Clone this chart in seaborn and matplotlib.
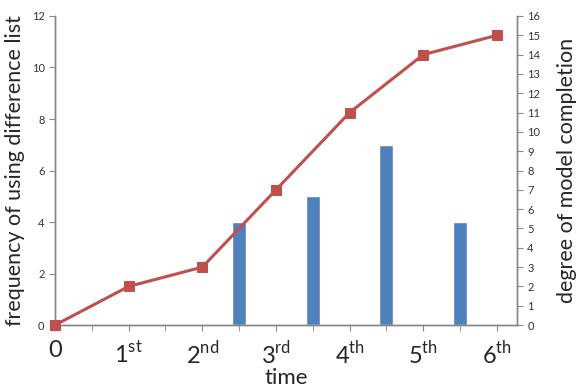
import seaborn as sns
import pandas as pd
import matplotlib.pyplot as plt
import numpy as np

# data
time_labels = ["0", r"1$^{\mathrm{st}}$", r"2$^{\mathrm{nd}}$", r"3$^{\mathrm{rd}}$",
               r"4$^{\mathrm{th}}$", r"5$^{\mathrm{th}}$", r"6$^{\mathrm{th}}$"]
time_pos = [0, 1, 2, 3, 4, 5, 6]
completion = [0, 2, 3, 7, 11, 14, 15]
bar_pos = [2.5, 3.5, 4.5, 5.5]
frequency = [4, 5, 7, 4]

sns.set_style("white")
plt.rcParams['font.family'] = ['Lato', 'DejaVu Sans']
plt.rcParams['mathtext.fontset'] = 'custom'
plt.rcParams['mathtext.rm'] = 'Lato'

fig = plt.figure(figsize=(5.82, 3.87), dpi=100)
ax = fig.add_axes([0.0945, 0.160, 0.7935, 0.7987])

grey = "#868686"
df_bar = pd.DataFrame({"t": bar_pos, "f": frequency})
sns.barplot(data=df_bar, x="t", y="f", native_scale=True, width=0.19,
            color="#4F81BD", saturation=1, ax=ax)
ax.set_xlim(0, 6.27)
ax.set_ylim(0, 12)
ax.set_yticks(range(0, 13, 2))
ax.set_xticks(time_pos)
ax.set_xticklabels(time_labels, fontsize=17)
ax.set_xticks(np.arange(0.5, 6.5, 1), minor=True)
ax.tick_params(axis="x", which="both", direction="out", length=4, color=grey, bottom=True, pad=7)
ax.tick_params(axis="y", direction="out", length=4, color=grey, left=True, labelsize=8, labelcolor="#333333")
ax.set_xlabel("time", fontsize=16, labelpad=0)
ax.set_ylabel("frequency of using difference list", fontsize=15.5, labelpad=5)

ax2 = ax.twinx()
df_line = pd.DataFrame({"t": time_pos, "c": completion})
sns.lineplot(data=df_line, x="t", y="c", color="#C0504D", linewidth=2.2,
             marker="s", markersize=7.5, markeredgecolor="#C0504D", ax=ax2, clip_on=False, zorder=5)
ax2.set_ylim(0, 16)
ax2.set_yticks(range(0, 17))
ax2.tick_params(axis="y", direction="out", length=4, color=grey, right=True, labelsize=8, labelcolor="#333333")
ax2.set_ylabel("degree of model completion", fontsize=15.5, labelpad=12)
ax2.set_xlim(0, 6.27)

for a in (ax, ax2):
    a.spines["top"].set_visible(False)
    for s in ("left", "right", "bottom"):
        a.spines[s].set_color(grey)
        a.spines[s].set_linewidth(1)

fig.savefig("out.png", dpi=100)
